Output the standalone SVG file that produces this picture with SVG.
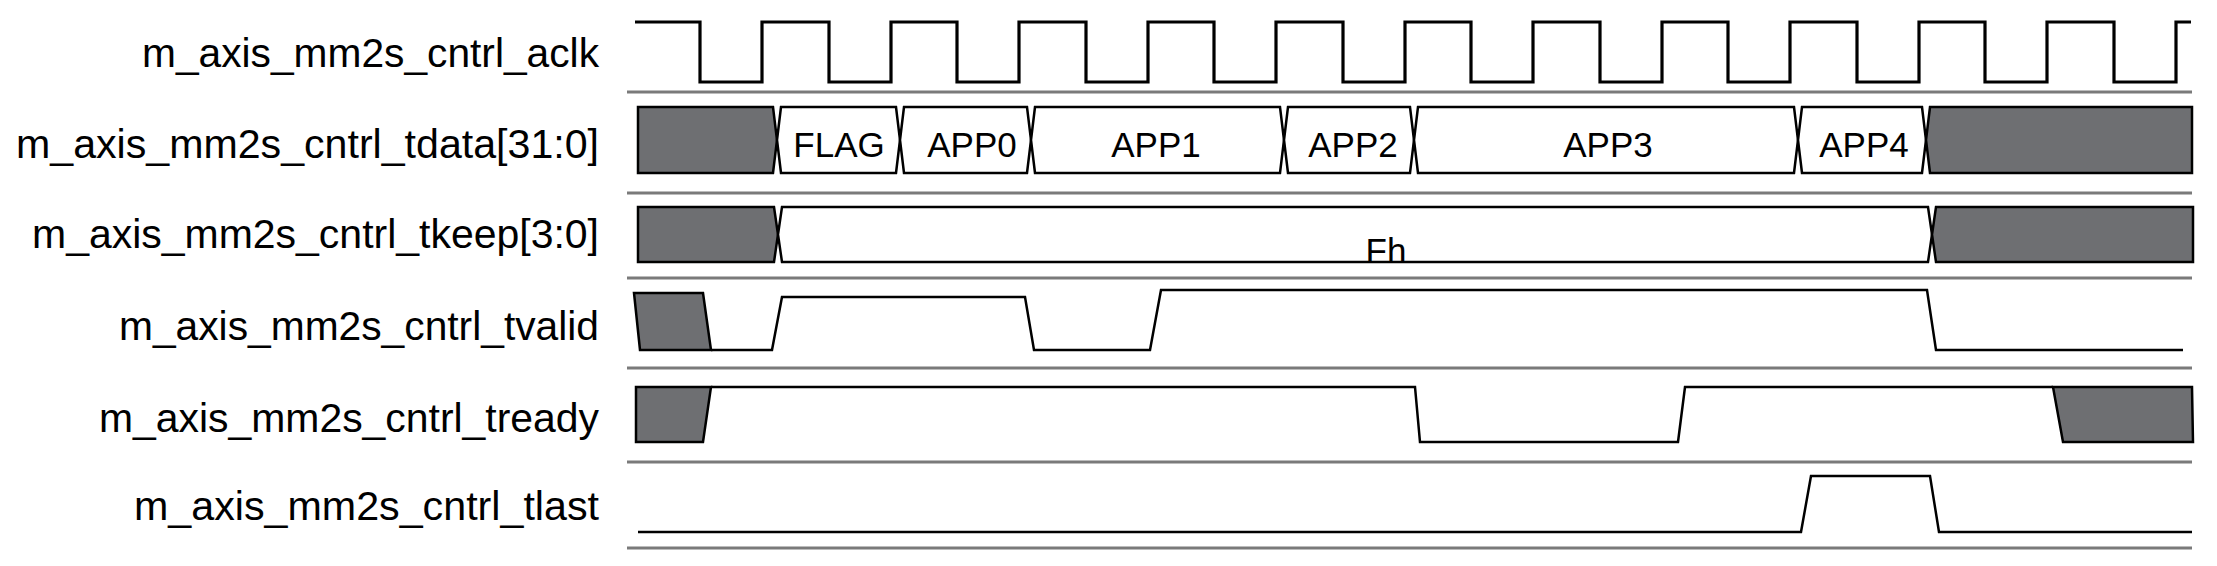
<svg xmlns="http://www.w3.org/2000/svg" width="2217" height="566" viewBox="0 0 2217 566">
<style>
.lbl{font-family:"Liberation Sans",Arial,sans-serif;font-size:40px;fill:#000;text-anchor:end}
.val{font-family:"Liberation Sans",Arial,sans-serif;font-size:35px;fill:#000;text-anchor:middle}
.grid{stroke:#7a7a7a;stroke-width:3;fill:none}
.sig{stroke:#000;stroke-width:2.5;fill:none;stroke-linejoin:miter}
.clk{stroke:#000;stroke-width:3.2;fill:none}
.bus{stroke:#000;stroke-width:2.5;fill:#fff;stroke-linejoin:miter}
.x{stroke:#000;stroke-width:2.5;fill:#6e6f72;stroke-linejoin:miter}
</style>
<rect width="2217" height="566" fill="#fff"/>
<g id="gridlines">
<line class="grid" x1="627" y1="92" x2="2192" y2="92"/>
<line class="grid" x1="627" y1="193" x2="2192" y2="193"/>
<line class="grid" x1="627" y1="278" x2="2192" y2="278"/>
<line class="grid" x1="627" y1="368" x2="2192" y2="368"/>
<line class="grid" x1="627" y1="462" x2="2192" y2="462"/>
<line class="grid" x1="627" y1="548" x2="2192" y2="548"/>
</g>
<g id="aclk">
<text class="lbl" x="599" y="67" textLength="457" lengthAdjust="spacingAndGlyphs">m_axis_mm2s_cntrl_aclk</text>
<path class="clk" d="M635,22 H700 V82 H762 V22 H829 V82 H891 V22 H957 V82 H1019 V22 H1086 V82 H1148 V22 H1214 V82 H1276 V22 H1343 V82 H1405 V22 H1471 V82 H1533 V22 H1600 V82 H1662 V22 H1728 V82 H1790 V22 H1857 V82 H1919 V22 H1985 V82 H2047 V22 H2114 V82 H2176 V22 H2191"/>
</g>
<g id="tdata">
<text class="lbl" x="599" y="158" textLength="583" lengthAdjust="spacingAndGlyphs">m_axis_mm2s_cntrl_tdata[31:0]</text>
<polygon class="x" points="638,107 773,107 777,140 773,173 638,173"/>
<polygon class="bus" points="781,107 896,107 900,140 896,173 781,173 777,140"/>
<polygon class="bus" points="904,107 1027,107 1031,140 1027,173 904,173 900,140"/>
<polygon class="bus" points="1035,107 1280,107 1284,140 1280,173 1035,173 1031,140"/>
<polygon class="bus" points="1288,107 1410,107 1414,140 1410,173 1288,173 1284,140"/>
<polygon class="bus" points="1418,107 1794,107 1798,140 1794,173 1418,173 1414,140"/>
<polygon class="bus" points="1802,107 1922,107 1926,140 1922,173 1802,173 1798,140"/>
<polygon class="x" points="1930,107 2192,107 2192,173 1930,173 1926,140"/>
<text class="val" x="839" y="157">FLAG</text>
<text class="val" x="972" y="157">APP0</text>
<text class="val" x="1156" y="157">APP1</text>
<text class="val" x="1353" y="157">APP2</text>
<text class="val" x="1608" y="157">APP3</text>
<text class="val" x="1864" y="157">APP4</text>
</g>
<g id="tkeep">
<text class="lbl" x="599" y="248" textLength="567" lengthAdjust="spacingAndGlyphs">m_axis_mm2s_cntrl_tkeep[3:0]</text>
<polygon class="x" points="638,207 774,207 778,234.5 774,262 638,262"/>
<polygon class="bus" points="782,207 1928,207 1932,234.5 1928,262 782,262 778,234.5"/>
<polygon class="x" points="1936,207 2193,207 2193,262 1936,262 1932,234.5"/>
<text class="val" x="1386" y="263">Fh</text>
</g>
<g id="tvalid">
<text class="lbl" x="599" y="340" textLength="480" lengthAdjust="spacingAndGlyphs">m_axis_mm2s_cntrl_tvalid</text>
<polygon class="x" points="634,293 703,293 711,350 640,350"/>
<path class="sig" d="M711,350 H772 L782,297 H1025 L1034,350 H1150 L1161,290 H1927 L1936,350 H2183"/>
</g>
<g id="tready">
<text class="lbl" x="599" y="432" textLength="500" lengthAdjust="spacingAndGlyphs">m_axis_mm2s_cntrl_tready</text>
<polygon class="x" points="636,387 711,387 703,442 636,442"/>
<path class="sig" d="M711,387 H1415 L1420,442 H1678 L1685,387 H2053"/>
<polygon class="x" points="2053,387 2192,387 2193,442 2063,442"/>
</g>
<g id="tlast">
<text class="lbl" x="599" y="520" textLength="465" lengthAdjust="spacingAndGlyphs">m_axis_mm2s_cntrl_tlast</text>
<path class="sig" d="M638,532 H1801 L1811,476 H1930 L1939,532 H2192"/>
</g>
</svg>
